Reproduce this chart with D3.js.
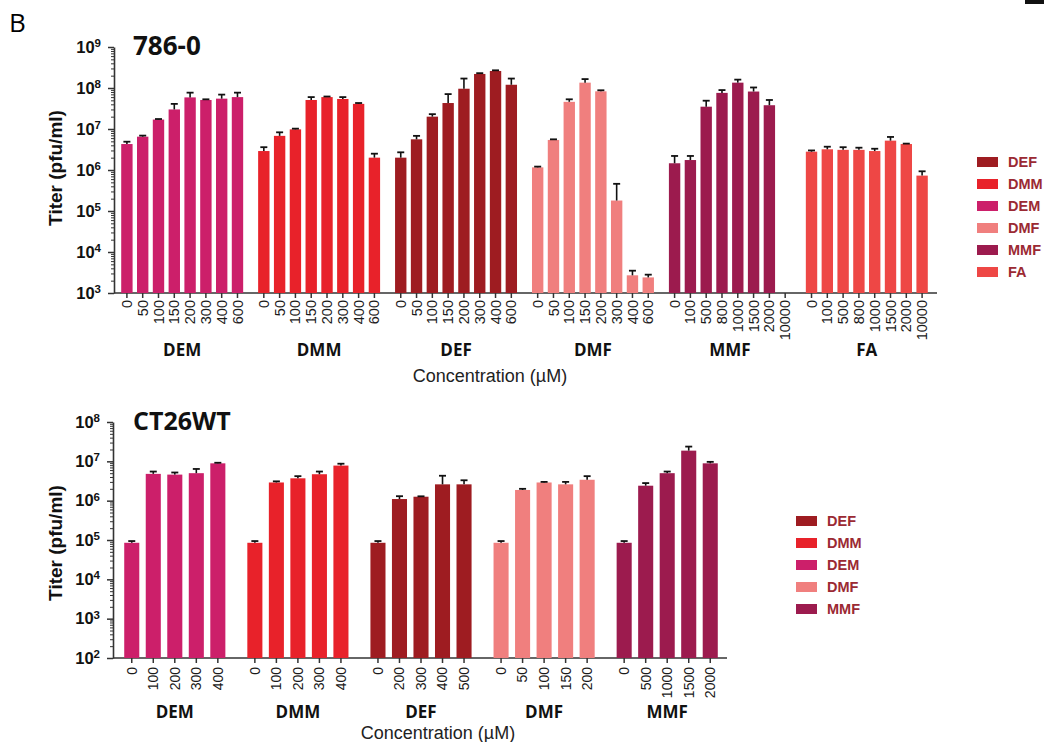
<!DOCTYPE html>
<html>
<head>
<meta charset="utf-8">
<script src="https://cdn.jsdelivr.net/npm/d3@7"></script>
<style>
  body { margin: 0; background: #fff; }
  svg { display: block; font-family: Arial, "Liberation Sans", sans-serif; }
</style>
</head>
<body>
<svg id="chart" width="1044" height="742"></svg>
<script>
// ---- 786-0 panel ----
const topGroups = ["DEM", "DMM", "DEF", "DMF", "MMF", "FA"];
const topConc = [
  ["0", "50", "100", "150", "200", "300", "400", "600"],
  ["0", "50", "100", "150", "200", "300", "400", "600"],
  ["0", "50", "100", "150", "200", "300", "400", "600"],
  ["0", "50", "100", "150", "200", "300", "400", "600"],
  ["0", "100", "500", "800", "1000", "1500", "2000", "10000"],
  ["0", "100", "500", "800", "1000", "1500", "2000", "10000"]
];
const topMeans = [
  [4.3e6, 6.5e6, 1.7e7, 3.0e7, 5.9e7, 5.1e7, 5.5e7, 6.0e7],
  [2.9e6, 6.8e6, 9.8e6, 5.1e7, 6.0e7, 5.4e7, 4.1e7, 2.0e6],
  [2.0e6, 5.6e6, 2.0e7, 4.3e7, 9.6e7, 2.2e8, 2.6e8, 1.2e8],
  [1.16e6, 5.4e6, 4.6e7, 1.35e8, 8.3e7, 1.8e5, 2.7e3, 2.4e3],
  [1.46e6, 1.75e6, 3.5e7, 7.6e7, 1.35e8, 8.2e7, 3.8e7, null],
  [2.8e6, 3.2e6, 3.1e6, 3.1e6, 2.9e6, 5.2e6, 4.3e6, 7.3e5]
];
const topErrors = [
  [0.6e6, 0.4e6, 0.5e6, 1.1e7, 1.8e7, 0.2e7, 1.4e7, 1.7e7],
  [0.7e6, 1.5e6, 0.4e6, 0.9e7, 0.2e7, 0.6e7, 0.2e7, 0.5e6],
  [0.7e6, 1.2e6, 0.3e7, 2.8e7, 7.4e7, 0.1e8, 0.1e8, 0.5e8],
  [0.05e6, 0.2e6, 0.7e7, 0.3e8, 0.5e7, 2.8e5, 0.8e3, 0.4e3],
  [0.74e6, 0.45e6, 1.4e7, 1.3e7, 0.25e8, 2.1e7, 1.3e7, null],
  [0.2e6, 0.5e6, 0.5e6, 0.4e6, 0.4e6, 1.2e6, 0.1e6, 2.0e5]
];
const topLegend = ["DEF", "DMM", "DEM", "DMF", "MMF", "FA"];

// ---- CT26WT panel ----
const botGroups = ["DEM", "DMM", "DEF", "DMF", "MMF"];
const botConc = [
  ["0", "100", "200", "300", "400"],
  ["0", "100", "200", "300", "400"],
  ["0", "200", "300", "400", "500"],
  ["0", "50", "100", "150", "200"],
  ["0", "500", "1000", "1500", "2000"]
];
const botMeans = [
  [8.5e4, 4.8e6, 4.6e6, 5.0e6, 8.9e6],
  [8.5e4, 2.9e6, 3.7e6, 4.7e6, 7.8e6],
  [8.5e4, 1.1e6, 1.26e6, 2.6e6, 2.6e6],
  [8.5e4, 1.87e6, 2.9e6, 2.6e6, 3.4e6],
  [8.5e4, 2.4e6, 5.0e6, 1.87e7, 8.9e6]
];
const botErrors = [
  [0.9e4, 0.7e6, 0.6e6, 1.4e6, 0.3e6],
  [0.9e4, 0.2e6, 0.5e6, 0.8e6, 0.9e6],
  [0.9e4, 0.2e6, 0.03e6, 1.7e6, 0.7e6],
  [0.9e4, 0.13e6, 0.1e6, 0.4e6, 0.8e6],
  [0.9e4, 0.4e6, 0.5e6, 0.5e7, 0.8e6]
];
const botLegend = ["DEF", "DMM", "DEM", "DMF", "MMF"];

const colors = {
  DEF: "#9e1c21",
  DMM: "#e8222a",
  DEM: "#cc1f6a",
  DMF: "#f07f7e",
  MMF: "#9c1b4e",
  FA: "#ee4745"
};

const svg = d3.select("#chart");

svg.append("text")
  .attr("x", 9).attr("y", 32)
  .style("font-family", "'Open Sans', sans-serif")
  .style("font-size", "26px")
  .text("B");

// little black mark in the corner of the original figure
svg.append("rect").attr("x", 1025).attr("y", 0).attr("width", 19).attr("height", 4).attr("fill", "#111");

function drawPanel(p) {
  const g = svg.append("g");

  const y = d3.scaleLog().domain(p.domain).range([p.y0, p.y1]);
  const gx = d3.scaleBand().domain(p.groups).range(p.bandRange).paddingInner(p.groupPad).paddingOuter(0);

  // y axis: decades with labels, minor ticks between
  const decades = d3.range(Math.log10(p.domain[0]), Math.log10(p.domain[1]) + 1).map(e => Math.pow(10, e));
  const minors = [];
  decades.slice(0, -1).forEach(d => { for (let k = 2; k <= 9; k++) minors.push(d * k); });

  const yMinor = g.append("g")
    .attr("transform", `translate(${p.axisX},0)`)
    .call(d3.axisLeft(y).tickValues(minors).tickSize(3).tickFormat(""));
  yMinor.select(".domain").remove();
  yMinor.selectAll("line").attr("stroke", "#333").attr("stroke-width", 1);

  const yAxis = g.append("g")
    .attr("transform", `translate(${p.axisX},0)`)
    .call(d3.axisLeft(y).tickValues(decades).tickSize(6).tickSizeOuter(0).tickPadding(7));
  yAxis.select(".domain").attr("stroke", "#333").attr("stroke-width", 1.6);
  yAxis.selectAll("line").attr("stroke", "#333").attr("stroke-width", 1.5);
  yAxis.selectAll("text")
    .attr("fill", "#111")
    .style("font-weight", "bold")
    .style("font-size", "16.5px")
    .each(function(d) {
      const t = d3.select(this);
      t.text(null);
      t.append("tspan").text("10");
      t.append("tspan").attr("dy", "-0.5em").style("font-size", "11.5px").text(Math.round(Math.log10(d)));
    });

  // x axis baseline
  g.append("line")
    .attr("x1", p.axisX).attr("x2", p.axisEnd)
    .attr("y1", p.y0).attr("y2", p.y0)
    .attr("stroke", "#333").attr("stroke-width", 1.6);

  p.groups.forEach((grp, gi) => {
    const inner = d3.scaleBand()
      .domain(p.conc[gi].map((c, i) => i))
      .range([0, gx.bandwidth()])
      .paddingInner(p.barPad).paddingOuter(p.barPad / 2);

    const gg = g.append("g").attr("transform", `translate(${gx(grp)},0)`);

    const rows = p.means[gi].map((m, i) => ({ i: i, m: m, e: p.errors[gi][i] })).filter(r => r.m != null);

    gg.selectAll("rect.bar")
      .data(rows)
      .enter().append("rect")
      .attr("class", "bar")
      .attr("x", r => inner(r.i))
      .attr("width", inner.bandwidth())
      .attr("y", r => y(r.m))
      .attr("height", r => p.y0 - y(r.m))
      .attr("fill", colors[grp]);

    // upper error bars
    const cx = r => inner(r.i) + inner.bandwidth() / 2;
    gg.selectAll("line.err")
      .data(rows)
      .enter().append("line")
      .attr("class", "err")
      .attr("x1", cx).attr("x2", cx)
      .attr("y1", r => y(r.m)).attr("y2", r => y(r.m + r.e))
      .attr("stroke", "#111").attr("stroke-width", 1.6);
    gg.selectAll("line.cap")
      .data(rows)
      .enter().append("line")
      .attr("class", "cap")
      .attr("x1", r => cx(r) - 3.5).attr("x2", r => cx(r) + 3.5)
      .attr("y1", r => y(r.m + r.e)).attr("y2", r => y(r.m + r.e))
      .attr("stroke", "#111").attr("stroke-width", 1.8);

    // concentration ticks
    const ax = gg.append("g")
      .attr("transform", `translate(0,${p.y0})`)
      .call(d3.axisBottom(inner).tickSize(5).tickSizeOuter(0).tickFormat(i => p.conc[gi][i]));
    ax.select(".domain").remove();
    ax.selectAll("line").attr("stroke", "#333").attr("stroke-width", 1.5);
    ax.selectAll("text")
      .attr("fill", "#1a1a1a")
      .style("font-size", p.tickFont)
      .attr("text-anchor", "end")
      .attr("transform", "rotate(-90)")
      .attr("x", -p.tickOffset).attr("y", 0).attr("dy", "0.35em");

    gg.append("text")
      .attr("x", gx.bandwidth() / 2)
      .attr("y", p.groupLabelY)
      .attr("text-anchor", "middle")
      .style("font-family", "'Open Sans', sans-serif")
      .style("font-weight", "bold")
      .style("font-size", "17px")
      .attr("fill", "#111")
      .text(grp);
  });

  g.append("text")
    .attr("x", p.concX).attr("y", p.concY)
    .attr("text-anchor", "middle")
    .style("font-size", "18px")
    .attr("fill", "#222")
    .text("Concentration (\u00b5M)");

  g.append("text")
    .attr("transform", `translate(62,${p.titerY}) rotate(-90)`)
    .attr("text-anchor", "middle")
    .style("font-weight", "bold")
    .style("font-size", "19px")
    .attr("fill", "#111")
    .text("Titer (pfu/ml)");

  g.append("text")
    .attr("x", 133).attr("y", p.titleY)
    .style("font-family", "'Open Sans', sans-serif")
    .style("font-weight", "bold")
    .style("font-size", p.titleFont)
    .attr("fill", "#111")
    .text(p.title);

  // legend
  const lg = g.append("g").attr("transform", `translate(${p.legendX},${p.legendY})`);
  const items = lg.selectAll("g")
    .data(p.legend)
    .enter().append("g")
    .attr("transform", (d, i) => `translate(0,${i * 22})`);
  items.append("rect")
    .attr("x", 0).attr("y", -5)
    .attr("width", 21).attr("height", 10)
    .attr("fill", d => colors[d]);
  items.append("text")
    .attr("x", 31).attr("y", 0).attr("dy", "0.35em")
    .style("font-weight", "bold")
    .style("font-size", "14.5px")
    .attr("fill", "#9b2a33")
    .text(d => d);
}

drawPanel({
  title: "786-0", titleY: 55, titleFont: "26px",
  groups: topGroups, conc: topConc, means: topMeans, errors: topErrors, legend: topLegend,
  domain: [1e3, 1e9], y0: 293, y1: 47,
  axisX: 114, axisEnd: 937,
  bandRange: [119, 930], groupPad: 0.077, barPad: 0.28,
  tickFont: "14.5px", tickOffset: 7,
  groupLabelY: 356, concX: 490, concY: 382, titerY: 168,
  legendX: 977, legendY: 162
});

drawPanel({
  title: "CT26WT", titleY: 430, titleFont: "25px",
  groups: botGroups, conc: botConc, means: botMeans, errors: botErrors, legend: botLegend,
  domain: [1e2, 1e8], y0: 658, y1: 422,
  axisX: 113, axisEnd: 727,
  bandRange: [121, 721], groupPad: 0.126, barPad: 0.3,
  tickFont: "14px", tickOffset: 9,
  groupLabelY: 718, concX: 438, concY: 739, titerY: 543,
  legendX: 796, legendY: 521
});
</script>
</body>
</html>
